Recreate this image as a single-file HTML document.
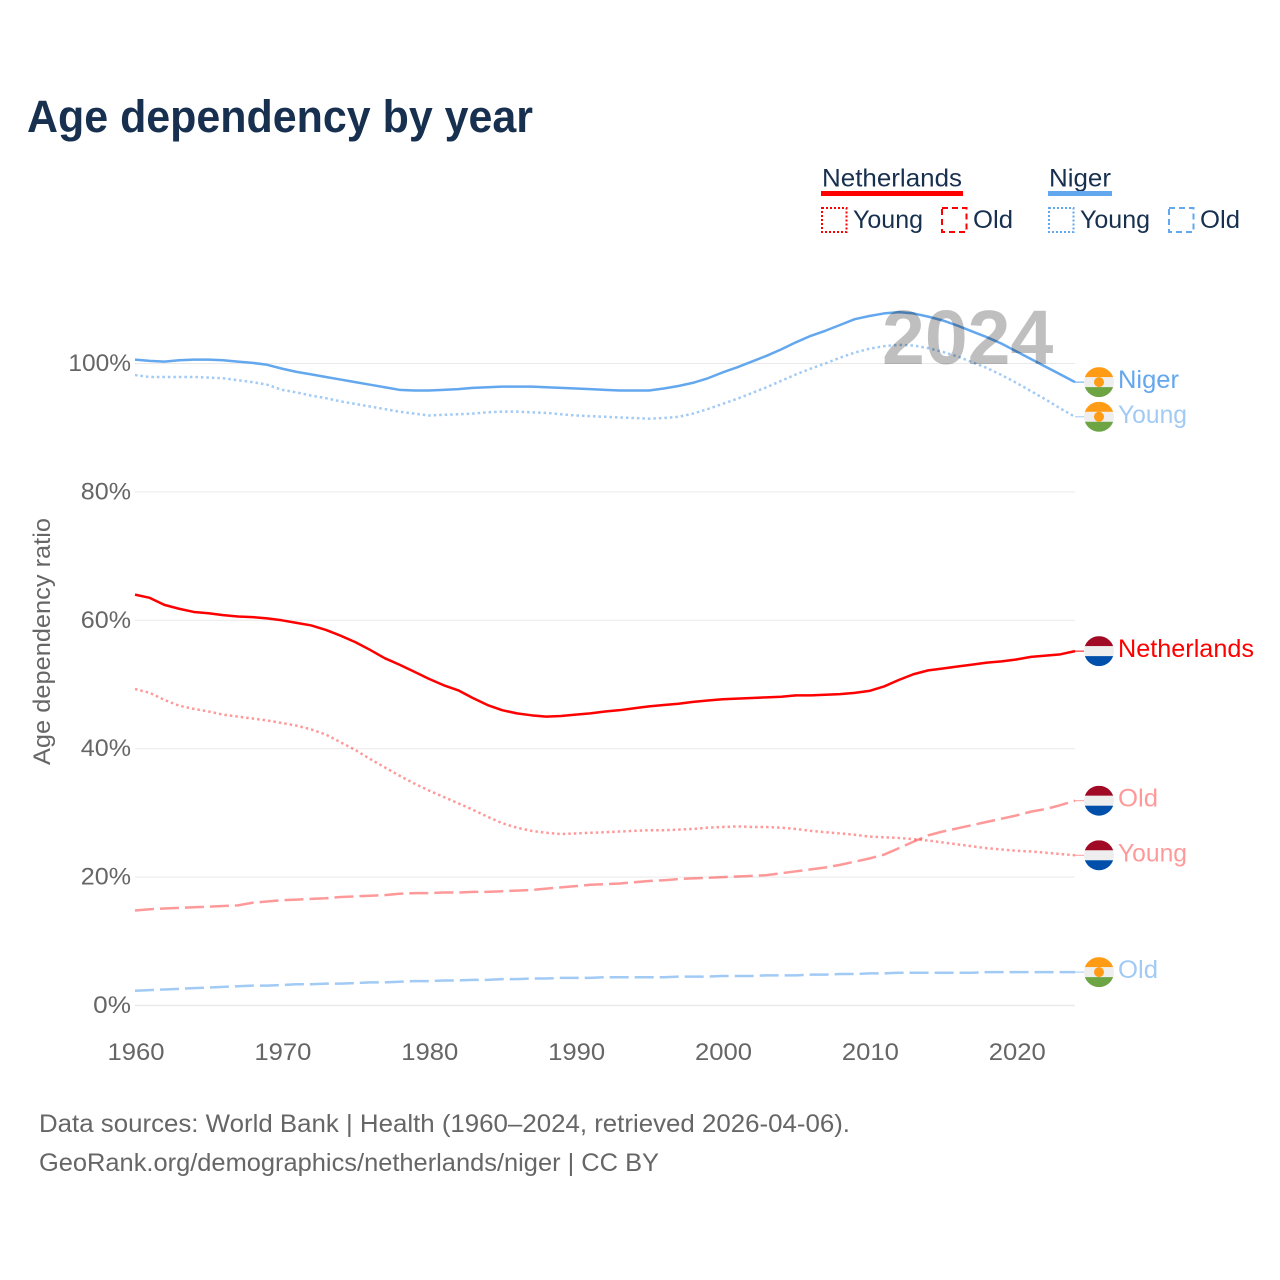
<!DOCTYPE html>
<html lang="en">
<head>
<meta charset="utf-8">
<title>Age dependency by year</title>
<style>
html,body{margin:0;padding:0;background:#fff;}
svg{display:block;font-family:"Liberation Sans",sans-serif;}
</style>
</head>
<body>
<svg id="chart" width="1280" height="1280" viewBox="0 0 1280 1280" xmlns="http://www.w3.org/2000/svg">
  <rect x="0" y="0" width="1280" height="1280" fill="#ffffff"/>
  <text x="27" y="132" font-size="45" font-weight="bold" fill="#17304f" textLength="506" lengthAdjust="spacingAndGlyphs">Age dependency by year</text>

  <g>
    <text x="822" y="186.500" font-size="25" fill="#17304f" textLength="140" lengthAdjust="spacingAndGlyphs">Netherlands</text>
    <rect x="821" y="191" width="142" height="5" fill="#ff0000"/>
    <rect x="822" y="208" width="24.500" height="24" fill="none" stroke="#ff0000" stroke-width="2" stroke-dasharray="2 2"/>
    <text x="853" y="228" font-size="25" fill="#17304f" textLength="70" lengthAdjust="spacingAndGlyphs">Young</text>
    <rect x="942" y="208" width="24.500" height="24" fill="none" stroke="#ff0000" stroke-width="2" stroke-dasharray="6 4"/>
    <text x="973" y="228" font-size="25" fill="#17304f" textLength="40" lengthAdjust="spacingAndGlyphs">Old</text>
    <text x="1049" y="186.500" font-size="25" fill="#17304f" textLength="62" lengthAdjust="spacingAndGlyphs">Niger</text>
    <rect x="1048" y="191" width="64" height="5" fill="#63a7ee"/>
    <rect x="1049" y="208" width="24.500" height="24" fill="none" stroke="#63a7ee" stroke-width="2" stroke-dasharray="2 2"/>
    <text x="1080" y="228" font-size="25" fill="#17304f" textLength="70" lengthAdjust="spacingAndGlyphs">Young</text>
    <rect x="1169" y="208" width="24.500" height="24" fill="none" stroke="#63a7ee" stroke-width="2" stroke-dasharray="6 4"/>
    <text x="1200" y="228" font-size="25" fill="#17304f" textLength="40" lengthAdjust="spacingAndGlyphs">Old</text>
  </g>

  <g id="grid"></g>
  <g id="yticks"></g>
  <g id="xticks"></g>
  <g id="series"></g>
  <g id="flags"></g>

  <text x="882" y="364" font-size="77" font-weight="bold" fill="#000000" fill-opacity="0.25">2024</text>

  <text x="0" y="0" transform="translate(50,765) rotate(-90)" font-size="24" fill="#666666" textLength="247" lengthAdjust="spacingAndGlyphs">Age dependency ratio</text>

  <text x="39" y="1132" font-size="25" fill="#666666" textLength="811" lengthAdjust="spacingAndGlyphs">Data sources: World Bank | Health (1960–2024, retrieved 2026-04-06).</text>
  <text x="39" y="1171" font-size="25" fill="#666666" textLength="620" lengthAdjust="spacingAndGlyphs">GeoRank.org/demographics/netherlands/niger | CC BY</text>
</svg>
<script>
const years = [1960,1961,1962,1963,1964,1965,1966,1967,1968,1969,1970,1971,1972,1973,1974,1975,1976,1977,1978,1979,1980,1981,1982,1983,1984,1985,1986,1987,1988,1989,1990,1991,1992,1993,1994,1995,1996,1997,1998,1999,2000,2001,2002,2003,2004,2005,2006,2007,2008,2009,2010,2011,2012,2013,2014,2015,2016,2017,2018,2019,2020,2021,2022,2023,2024];
const nigerTotal = [100.6,100.4,100.3,100.5,100.6,100.6,100.5,100.3,100.1,99.8,99.2,98.7,98.3,97.9,97.5,97.1,96.7,96.3,95.9,95.8,95.8,95.9,96.0,96.2,96.3,96.4,96.4,96.4,96.3,96.2,96.1,96.0,95.9,95.8,95.8,95.8,96.1,96.5,97.0,97.7,98.6,99.4,100.3,101.2,102.2,103.3,104.3,105.1,106.0,106.9,107.4,107.8,108.0,107.8,107.3,106.7,105.9,105.0,104.1,103.1,101.9,100.7,99.5,98.3,97.1];
const nigerYoung = [98.2,97.9,97.9,97.9,97.9,97.8,97.7,97.4,97.1,96.7,95.9,95.5,95.0,94.6,94.1,93.7,93.3,92.9,92.5,92.2,91.9,92.0,92.1,92.2,92.4,92.5,92.5,92.4,92.3,92.1,91.9,91.8,91.7,91.6,91.5,91.4,91.5,91.7,92.2,92.9,93.7,94.5,95.4,96.3,97.3,98.3,99.2,100.0,100.9,101.7,102.3,102.7,102.9,102.8,102.4,101.8,101.1,100.2,99.3,98.2,97.0,95.7,94.4,93.0,91.7];
const nigerOld = [2.3,2.4,2.5,2.6,2.7,2.8,2.9,3.0,3.1,3.1,3.2,3.3,3.3,3.4,3.4,3.5,3.6,3.6,3.7,3.8,3.8,3.9,3.9,4.0,4.0,4.1,4.1,4.2,4.2,4.3,4.3,4.3,4.4,4.4,4.4,4.4,4.4,4.5,4.5,4.5,4.6,4.6,4.6,4.7,4.7,4.7,4.8,4.8,4.9,4.9,5.0,5.0,5.1,5.1,5.1,5.1,5.1,5.1,5.2,5.2,5.2,5.2,5.2,5.2,5.2];
const netherlandsTotal = [64.0,63.5,62.4,61.8,61.3,61.1,60.8,60.6,60.5,60.3,60.0,59.6,59.2,58.5,57.6,56.6,55.4,54.1,53.1,52.0,50.9,49.9,49.1,47.9,46.8,46.0,45.5,45.2,45.0,45.1,45.3,45.5,45.8,46.0,46.3,46.6,46.8,47.0,47.3,47.5,47.7,47.8,47.9,48.0,48.1,48.3,48.3,48.4,48.5,48.7,49.0,49.7,50.7,51.6,52.2,52.5,52.8,53.1,53.4,53.6,53.9,54.3,54.5,54.7,55.2];
const netherlandsYoung = [49.3,48.7,47.6,46.7,46.2,45.8,45.3,45.0,44.7,44.4,44.0,43.6,43.0,42.2,41.0,39.8,38.4,37.1,35.8,34.6,33.5,32.5,31.5,30.5,29.4,28.4,27.7,27.2,26.9,26.7,26.8,26.9,27.0,27.1,27.2,27.3,27.3,27.4,27.5,27.7,27.8,27.9,27.8,27.8,27.7,27.5,27.2,27.0,26.8,26.6,26.3,26.2,26.1,25.9,25.7,25.4,25.1,24.8,24.5,24.3,24.1,24.0,23.8,23.6,23.4];
const netherlandsOld = [14.8,15.0,15.1,15.2,15.3,15.4,15.5,15.6,16.0,16.2,16.4,16.5,16.6,16.7,16.9,17.0,17.1,17.2,17.4,17.5,17.5,17.6,17.6,17.7,17.7,17.8,17.9,18.0,18.2,18.4,18.6,18.8,18.9,19.0,19.2,19.4,19.5,19.7,19.8,19.9,20.0,20.1,20.2,20.3,20.6,20.9,21.2,21.5,21.9,22.4,22.9,23.5,24.5,25.5,26.5,27.1,27.6,28.1,28.6,29.1,29.6,30.2,30.6,31.2,31.9];
const yTickValues = [0,20,40,60,80,100];
const yTickLabels = ["0%","20%","40%","60%","80%","100%"];
const xTickValues = [1960,1970,1980,1990,2000,2010,2020];
const xTickLabels = ["1960","1970","1980","1990","2000","2010","2020"];

const NS = "http://www.w3.org/2000/svg";
const xScale = function (year) { return 135 + (year - 1960) * (1075 - 135) / 64; };
const yScale = function (pct) { return 1005.5 - pct * 6.42; };

function make(tag, parentId) {
  const el = document.createElementNS(NS, tag);
  document.getElementById(parentId).appendChild(el);
  return el;
}

yTickValues.forEach(function (v, i) {
  const line = make("line", "grid");
  
  
  line.setAttribute("x1", 135);
  line.setAttribute("x2", 1075);
  line.setAttribute("y1", yScale(v));
  line.setAttribute("y2", yScale(v));
  line.setAttribute("stroke", "#e9e9e9");
  line.setAttribute("stroke-width", v === 0 ? 1.6 : 1);

  const label = make("text", "yticks");
  
  
  label.setAttribute("x", 131);
  label.setAttribute("y", yScale(v) + 7.5);
  label.setAttribute("text-anchor", "end");
  label.setAttribute("font-size", "24");
  label.setAttribute("fill", "#666666");
  label.setAttribute("textLength", yTickLabels[i].length * 12.4 + 13);
  label.setAttribute("lengthAdjust", "spacingAndGlyphs");
  label.textContent = yTickLabels[i];
});

xTickValues.forEach(function (v, i) {
  const label = make("text", "xticks");
  
  
  label.setAttribute("x", xScale(v) + 1);
  label.setAttribute("y", 1060);
  label.setAttribute("text-anchor", "middle");
  label.setAttribute("font-size", "24");
  label.setAttribute("fill", "#666666");
  label.setAttribute("textLength", 57);
  label.setAttribute("lengthAdjust", "spacingAndGlyphs");
  label.textContent = xTickLabels[i];
});

const seriesList = [
  { key: "netherlands-old", values: netherlandsOld, color: "#ff0000", opacity: 0.4, dash: "19 6", flag: "nl", label: "Old", labelWidth: 40 },
  { key: "netherlands-young", values: netherlandsYoung, color: "#ff0000", opacity: 0.4, dash: "2.5 3", flag: "nl", label: "Young", labelWidth: 69 },
  { key: "netherlands-total", values: netherlandsTotal, color: "#ff0000", opacity: 1, dash: "", flag: "nl", label: "Netherlands", labelWidth: 136 },
  { key: "niger-old", values: nigerOld, color: "#63a7ee", opacity: 0.6, dash: "19 6", flag: "ne", label: "Old", labelWidth: 40 },
  { key: "niger-young", values: nigerYoung, color: "#63a7ee", opacity: 0.6, dash: "2.5 3", flag: "ne", label: "Young", labelWidth: 69 },
  { key: "niger-total", values: nigerTotal, color: "#63a7ee", opacity: 1, dash: "", flag: "ne", label: "Niger", labelWidth: 61 }
];

function drawFlag(kind, cy, name) {
  const clipId = "clip-" + name;
  const clip = make("clipPath", "flags");
  clip.setAttribute("id", clipId);
  const clipCircle = document.createElementNS(NS, "circle");
  clipCircle.setAttribute("cx", 1099);
  clipCircle.setAttribute("cy", cy);
  clipCircle.setAttribute("r", 15);
  clip.appendChild(clipCircle);
  const colors = kind === "nl" ? ["#a00a24", "#eeeeee", "#0050ab"] : ["#ff9b14", "#eeeeee", "#6da544"];
  const flagGroup = make("g", "flags");
  
  
  flagGroup.setAttribute("clip-path", "url(#" + clipId + ")");
  colors.forEach(function (c, i) {
    const band = document.createElementNS(NS, "rect");
    band.setAttribute("x", 1084);
    band.setAttribute("y", cy - 15 + i * 10);
    band.setAttribute("width", 30);
    band.setAttribute("height", 10.2);
    band.setAttribute("fill", c);
    flagGroup.appendChild(band);
  });
  if (kind === "ne") {
    const dot = document.createElementNS(NS, "circle");
    dot.setAttribute("cx", 1099);
    dot.setAttribute("cy", cy);
    dot.setAttribute("r", 5);
    dot.setAttribute("fill", "#ff9b14");
    flagGroup.appendChild(dot);
  }
}

seriesList.forEach(function (s) {
  const d = s.values.map(function (v, i) {
    return (i ? "L" : "M") + xScale(years[i]).toFixed(2) + " " + yScale(v).toFixed(2);
  }).join(" ");
  const path = make("path", "series");
  
  
  path.setAttribute("d", d);
  path.setAttribute("fill", "none");
  path.setAttribute("stroke", s.color);
  path.setAttribute("stroke-opacity", s.opacity);
  path.setAttribute("stroke-width", 2.5);
  path.setAttribute("stroke-linejoin", "round");
  if (s.dash) path.setAttribute("stroke-dasharray", s.dash);

  const last = s.values[s.values.length - 1];
  const endY = yScale(last);

  const connector = make("line", "series");
  
  
  connector.setAttribute("x1", xScale(years[years.length - 1]));
  connector.setAttribute("x2", 1084);
  connector.setAttribute("y1", endY);
  connector.setAttribute("y2", endY);
  connector.setAttribute("stroke", s.color);
  connector.setAttribute("stroke-opacity", s.opacity);
  connector.setAttribute("stroke-width", 1);

  drawFlag(s.flag, endY, s.key);

  const label = make("text", "flags");
  
  
  label.setAttribute("x", 1118);
  label.setAttribute("y", endY + 6);
  label.setAttribute("font-size", "25");
  label.setAttribute("fill", s.color);
  label.setAttribute("fill-opacity", s.opacity);
  label.setAttribute("textLength", s.labelWidth);
  label.setAttribute("lengthAdjust", "spacingAndGlyphs");
  label.textContent = s.label;
});
</script>
</body>
</html>
